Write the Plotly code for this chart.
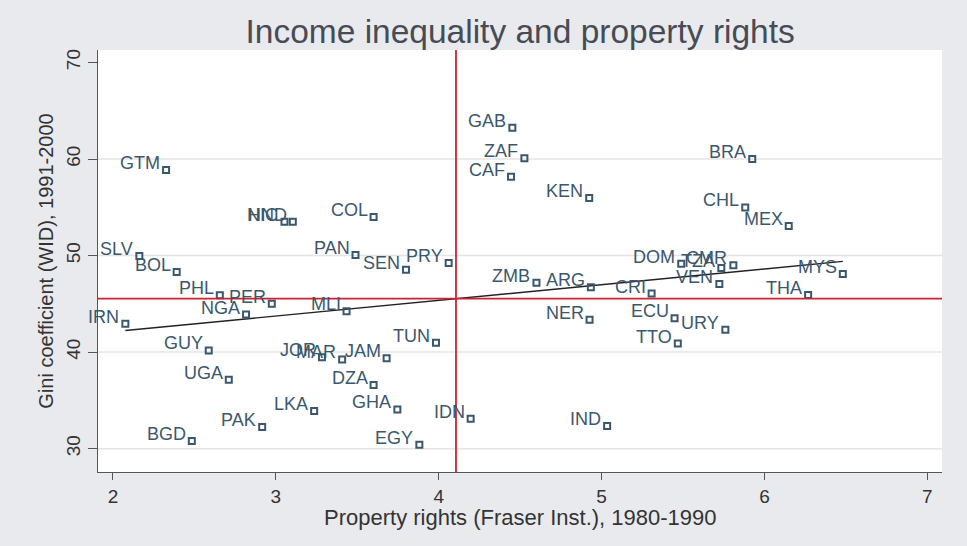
import plotly.graph_objects as go

# ---- data ----
codes = ["GTM", "NIC", "HND", "SLV", "BOL", "PHL", "PER", "NGA", "IRN", "COL",
         "PAN", "SEN", "PRY", "MLI", "GUY", "UGA", "LKA", "PAK", "BGD", "JOR",
         "MAR", "JAM", "TUN", "DZA", "GHA", "IDN", "EGY", "GAB", "ZAF", "CAF",
         "KEN", "ZMB", "ARG", "NER", "IND", "BRA", "CHL", "MEX", "DOM", "CMR",
         "TZA", "VEN", "CRI", "MYS", "THA", "ECU", "URY", "TTO"]
property_rights = [2.326, 3.053, 3.104, 2.162, 2.391, 2.656, 2.975, 2.817, 2.076, 3.600,
                   3.489, 3.799, 4.061, 3.434, 2.588, 2.711, 3.235, 2.916, 2.484, 3.283,
                   3.407, 3.680, 3.983, 3.600, 3.746, 4.196, 3.881, 4.452, 4.526, 4.444,
                   4.924, 4.600, 4.934, 4.926, 5.034, 5.925, 5.882, 6.149, 5.489, 5.809,
                   5.735, 5.723, 5.307, 6.481, 6.268, 5.448, 5.760, 5.468]
gini = [58.86, 53.50, 53.50, 49.96, 48.30, 45.88, 45.00, 43.89, 42.93, 53.99,
        50.06, 48.54, 49.23, 44.23, 40.17, 37.13, 33.89, 32.23, 30.79, 39.47,
        39.24, 39.37, 40.96, 36.58, 34.06, 33.10, 30.41, 63.23, 60.09, 58.16,
        55.96, 47.17, 46.71, 43.34, 32.34, 59.99, 54.98, 53.06, 49.16, 48.99,
        48.72, 47.06, 46.06, 48.10, 45.92, 43.51, 42.31, 40.89]

mean_property_rights = 4.106
mean_gini = 45.53
fit_slope = 1.626
fit_intercept = mean_gini - fit_slope * mean_property_rights

x_ticks = [2, 3, 4, 5, 6, 7]
y_ticks = [30, 40, 50, 60, 70]
y_grid = [30, 40, 50, 60]

title = "Income inequality and property rights"
x_title = "Property rights (Fraser Inst.), 1980-1990"
y_title = "Gini coefficient (WID), 1991-2000"

# ---- styles ----
FONT = "Liberation Sans, Arial, Helvetica, sans-serif"
MARK = "#3b576c"
RED = "#cc2233"
BG = "#e9eaed"
AXIS = "#555555"

fig = go.Figure()

# fitted line over data range
x_lo, x_hi = min(property_rights), max(property_rights)
fig.add_trace(go.Scatter(
    x=[x_lo, x_hi],
    y=[fit_intercept + fit_slope * x_lo, fit_intercept + fit_slope * x_hi],
    mode="lines", line=dict(color="#222222", width=1.4),
    hoverinfo="skip", showlegend=False))

fig.add_trace(go.Scatter(
    x=property_rights, y=gini, mode="markers",
    marker=dict(symbol="square-open", size=6, color=MARK,
                line=dict(color=MARK, width=2)),
    text=codes, showlegend=False))

for c, xv, yv in zip(codes, property_rights, gini):
    fig.add_annotation(x=xv, y=yv, text=c, showarrow=False,
                       xanchor="right", yanchor="middle",
                       xshift=-4, yshift=7,
                       font=dict(family=FONT, size=18, color=MARK))

# x-axis title placed as paper annotation to match reference spacing
fig.add_annotation(x=0.5, y=0, xref="paper", yref="paper", text=x_title,
                   showarrow=False, xanchor="center", yanchor="middle", yshift=-45,
                   font=dict(family=FONT, size=22, color="#333333"))

shapes = []
for g in y_grid:
    shapes.append(dict(type="line", xref="paper", yref="y", x0=0, x1=1, y0=g, y1=g,
                       line=dict(color="#e4e4e4", width=1.5), layer="below"))
shapes.append(dict(type="line", xref="x", yref="paper", x0=mean_property_rights,
                   x1=mean_property_rights, y0=0, y1=1,
                   line=dict(color=RED, width=1.8)))
shapes.append(dict(type="line", xref="paper", yref="y", x0=0, x1=1,
                   y0=mean_gini, y1=mean_gini,
                   line=dict(color=RED, width=1.8)))

fig.update_layout(
    width=967, height=546,
    paper_bgcolor=BG, plot_bgcolor="white",
    margin=dict(l=98, r=25, t=50, b=74),
    font=dict(family=FONT, color="#444444"),
    title=dict(text=title, x=0.5379, xanchor="center", y=0.943, yanchor="middle",
               font=dict(family=FONT, size=33.5, color="#474b55")),
    shapes=shapes,
    xaxis=dict(range=[1.908, 7.09], tickvals=x_ticks, showgrid=False, zeroline=False,
               showline=True, linecolor=AXIS, linewidth=1.2,
               ticks="outside", ticklen=7, tickcolor=AXIS,
               tickfont=dict(size=19, color="#333333")),
    yaxis=dict(range=[27.58, 71.29], tickvals=y_ticks, showgrid=False, zeroline=False,
               showline=True, linecolor=AXIS, linewidth=1.2,
               ticks="outside", ticklen=9, tickcolor=AXIS, tickangle=-90,
               tickfont=dict(size=19, color="#333333"),
               title=dict(text=y_title, font=dict(size=20, color="#333333"), standoff=4)),
)

fig.write_html("out.html", config={"displayModeBar": False},
               post_script="document.body.style.margin='0';")
